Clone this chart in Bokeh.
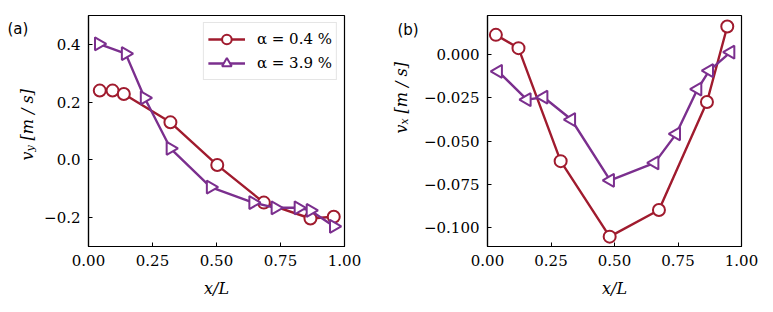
import math
from bokeh.plotting import figure
from bokeh.layouts import row
from bokeh.models import (Range1d, FixedTicker, CustomJSTickFormatter,
                          Legend, LegendItem)
from bokeh.core.properties import value
from bokeh.embed import file_html
from bokeh.resources import INLINE

# ---------------- data ----------------
# panel (a): v_y vs x/L
a_red_x = [0.044, 0.094, 0.138, 0.320, 0.503, 0.685, 0.867, 0.958]
a_red_y = [0.240, 0.240, 0.228, 0.130, -0.018, -0.148, -0.203, -0.197]
a_pur_x = [0.040, 0.145, 0.219, 0.320, 0.477, 0.643, 0.730, 0.820, 0.867, 0.958]
a_pur_y = [0.402, 0.368, 0.215, 0.040, -0.094, -0.148, -0.166, -0.166, -0.175, -0.230]

# panel (b): v_x vs x/L
b_red_x = [0.033, 0.122, 0.288, 0.481, 0.675, 0.864, 0.944]
b_red_y = [0.0115, 0.0038, -0.0616, -0.1053, -0.0899, -0.0274, 0.0163]
b_pur_x = [0.042, 0.155, 0.221, 0.330, 0.483, 0.658, 0.743, 0.827, 0.873, 0.957]
b_pur_y = [-0.0096, -0.0260, -0.0246, -0.0375, -0.0727, -0.0626, -0.0458, -0.0199, -0.0092, 0.0015]

x_ticks = [0.0, 0.25, 0.5, 0.75, 1.0]
a_y_ticks = [-0.2, 0.0, 0.2, 0.4]
b_y_ticks = [-0.1, -0.075, -0.05, -0.025, 0.0]
series_labels = ["α = 0.4 %", "α = 3.9 %"]
panel_tags = ["(a)", "(b)"]
y_subscripts = ["y", "x"]
x_label = "x/L"
unit_text = "[m / s]"

RED = "#a01b2e"
PUR = "#7b2f8e"
SERIF = "DejaVu Serif"
H = 304
TOP = 15
BOTTOM = 246


def fmt(n):
    return CustomJSTickFormatter(
        args=dict(n=n),
        code="var s = tick.toFixed(n); if (parseFloat(s) == 0) { s = (0).toFixed(n); } return s.replace('-', '\u2212');")


def make_fig(width, left, right, yr, yticks, ydec):
    p = figure(width=width, height=H, output_backend="svg", toolbar_location=None,
               x_range=Range1d(0, 1), y_range=Range1d(*yr),
               min_border_left=left, min_border_right=right,
               min_border_top=TOP, min_border_bottom=H - BOTTOM)
    p.grid.visible = False
    p.outline_line_color = "black"
    p.outline_line_width = 1.2
    p.background_fill_color = "white"
    p.border_fill_color = "white"
    for ax, ticks, dec in ((p.xaxis[0], x_ticks, 2), (p.yaxis[0], yticks, ydec)):
        ax.ticker = FixedTicker(ticks=ticks)
        ax.formatter = fmt(dec)
        ax.major_tick_in = 4
        ax.major_tick_out = 0
        ax.minor_tick_in = 0
        ax.minor_tick_out = 0
        ax.major_tick_line_color = "black"
        ax.axis_line_color = "black"
        ax.axis_line_width = 1.2
        ax.major_label_text_font = SERIF
        ax.major_label_text_font_size = "15px"
        ax.major_label_text_color = "black"
        ax.major_label_standoff = 8
    p.xaxis.axis_label = x_label
    p.xaxis.axis_label_text_font = SERIF
    p.xaxis.axis_label_text_font_style = "italic"
    p.xaxis.axis_label_text_font_size = "16px"
    p.xaxis.axis_label_text_color = "black"
    p.xaxis.axis_label_standoff = 10
    return p


def make_strip(width, tag, tag_x, tag_base, sub, base_x, start_y):
    """narrow figure holding the panel tag and the rotated y-axis label;
    its data units are page pixels (y measured upward from page y = H)"""
    s = figure(width=width, height=H, output_backend="svg", toolbar_location=None,
               x_range=Range1d(0, width), y_range=Range1d(H - BOTTOM, H - TOP),
               x_axis_type=None, y_axis_type=None,
               min_border_left=0, min_border_right=0,
               min_border_top=TOP, min_border_bottom=H - BOTTOM)
    s.grid.visible = False
    s.outline_line_color = None
    s.background_fill_color = "white"
    s.border_fill_color = "white"
    s.text(x=[tag_x], y=[H - tag_base], text=[tag], text_font=value("DejaVu Sans"),
           text_font_size="15px", text_color="black", text_baseline="alphabetic",
           text_align="left")
    common = dict(angle=math.pi / 2, text_font=value(SERIF), text_font_style="italic",
                  text_color="black", text_align="left", text_baseline="alphabetic")
    s.text(x=[base_x], y=[H - start_y], text=["v"], text_font_size="16px", **common)
    s.text(x=[base_x + 3], y=[H - start_y + 9], text=[sub], text_font_size="11px", **common)
    s.text(x=[base_x], y=[H - start_y + 20], text=[unit_text], text_font_size="16px", **common)
    return s


# ---------------- panel (a) ----------------
strip_a = make_strip(40, panel_tags[0], 7, 28, y_subscripts[0], 27, 160)
pa = make_fig(348, 48, 44, (-0.3, 0.5), a_y_ticks, 1)
r1l = pa.line(a_red_x, a_red_y, line_color=RED, line_width=2.4)
r1s = pa.scatter(a_red_x, a_red_y, marker="circle", size=12, line_color=RED,
                 line_width=2, fill_color="white")
r2l = pa.line(a_pur_x, a_pur_y, line_color=PUR, line_width=2.4)
r2s = pa.scatter(a_pur_x, a_pur_y, marker="triangle", size=13, angle=-math.pi / 2,
                 line_color=PUR, line_width=2, fill_color="white")
legend = Legend(items=[LegendItem(label=series_labels[0], renderers=[r1l, r1s]),
                       LegendItem(label=series_labels[1], renderers=[r2l, r2s])],
                location="top_right", margin=7, padding=4, spacing=0,
                glyph_width=37, glyph_height=24, label_height=24,
                label_text_font=SERIF, label_text_font_size="15px",
                label_standoff=12, label_text_color="black",
                border_line_color="#cccccc", border_line_width=1.5,
                background_fill_color="white", background_fill_alpha=0.85)
pa.add_layout(legend)

# ---------------- panel (b) ----------------
strip_b = make_strip(32, panel_tags[1], 9, 29.7, y_subscripts[1], 13, 133)
pb = make_fig(345, 64, 24, (-0.111, 0.0227), b_y_ticks, 3)
pb.line(b_red_x, b_red_y, line_color=RED, line_width=2.4)
pb.scatter(b_red_x, b_red_y, marker="circle", size=12, line_color=RED,
           line_width=2, fill_color="white")
pb.line(b_pur_x, b_pur_y, line_color=PUR, line_width=2.4)
pb.scatter(b_pur_x, b_pur_y, marker="triangle", size=13, angle=math.pi / 2,
           line_color=PUR, line_width=2, fill_color="white")

layout = row(strip_a, pa, strip_b, pb)
open("out.html", "w").write(file_html(layout, INLINE))
